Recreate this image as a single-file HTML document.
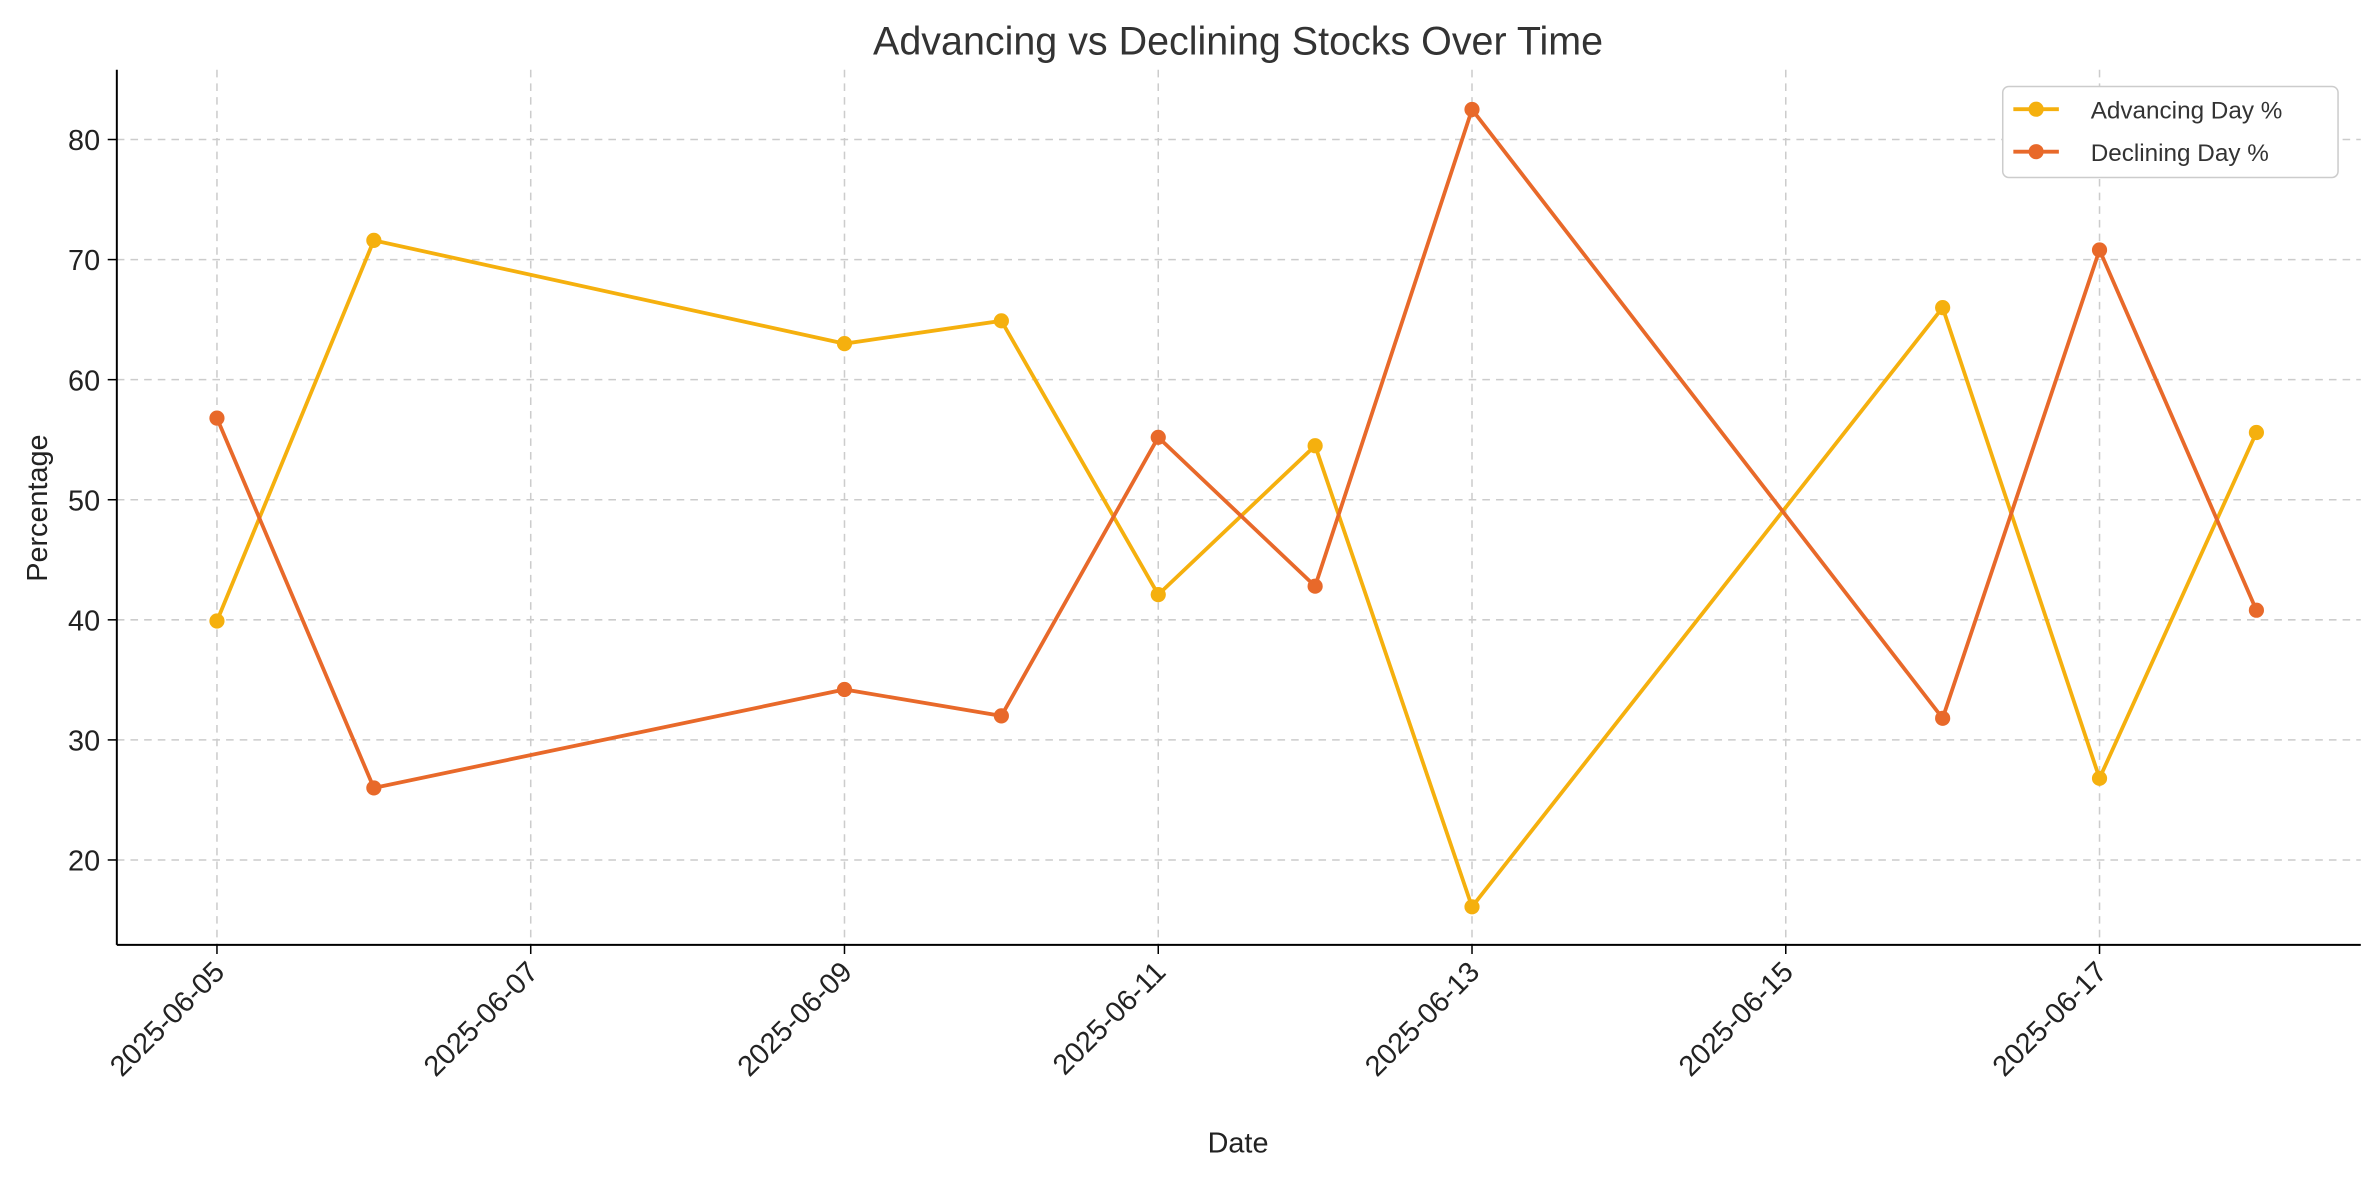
<!DOCTYPE html>
<html><head><meta charset="utf-8"><style>
body{margin:0;background:#fff;}
svg{display:block;font-family:"Liberation Sans","DejaVu Sans",sans-serif;}
</style></head><body>
<svg id="chart" width="2379" height="1180" viewBox="0 0 1568 778" preserveAspectRatio="none">
<text x="816" y="36" font-size="26" fill="#333" text-anchor="middle">Advancing vs Declining Stocks Over Time</text>
<g id="grid"></g>
<g id="axes"></g>
<g id="series"></g>
<text x="816" y="760" font-size="19" fill="#222" text-anchor="middle">Date</text>
<text transform="translate(31,335) rotate(-90)" font-size="19" fill="#222" text-anchor="middle">Percentage</text>
<g>
<rect x="1320" y="57" width="221" height="60" rx="4" fill="#fff" stroke="#ccc"/>
<g>
<line x1="1327" y1="72" x2="1357" y2="72" stroke="#f5b00e" stroke-width="2.5"/><circle cx="1342" cy="72" r="5" fill="#f5b00e"/>
<text x="1378" y="78" font-size="16" fill="#333">Advancing Day %</text></g>
<g>
<line x1="1327" y1="100" x2="1357" y2="100" stroke="#e8692a" stroke-width="2.5"/><circle cx="1342" cy="100" r="5" fill="#e8692a"/>
<text x="1378" y="106" font-size="16" fill="#333">Declining Day %</text></g>
</g>
</svg>
<script>
const dates=["2025-06-05","2025-06-06","2025-06-09","2025-06-10","2025-06-11","2025-06-12","2025-06-13","2025-06-16","2025-06-17","2025-06-18"];
const advancing=[39.9,71.6,63.0,64.9,42.1,54.5,16.1,66.0,26.8,55.6];
const declining=[56.8,26.0,34.2,32.0,55.2,42.8,82.5,31.8,70.8,40.8];
const xTicks=["2025-06-05","2025-06-07","2025-06-09","2025-06-11","2025-06-13","2025-06-15","2025-06-17"];
const yTicks=[20,30,40,50,60,70,80];
const NS="http://www.w3.org/2000/svg";
const base=Date.UTC(2025,5,5);
function dayOf(s){const p=s.split("-");return (Date.UTC(+p[0],+p[1]-1,+p[2])-base)/864e5;}
function xs(s){return 143+dayOf(s)*103.4;}
function ys(v){return 567-(v-20)*7.917;}
function mk(tag,attrs,parent){const e=document.createElementNS(NS,tag);for(const k in attrs)e.setAttribute(k,attrs[k]);parent.appendChild(e);return e;}
const grid=document.getElementById("grid"),axes=document.getElementById("axes"),series=document.getElementById("series");
xTicks.forEach(t=>{const x=xs(t);
 const g=mk("line",{x1:x,x2:x,y1:46,y2:623,stroke:"#ccc","stroke-dasharray":"5,4","stroke-width":1},grid);
 
 
 mk("line",{x1:x,x2:x,y1:623,y2:629,stroke:"#000"},axes);
 const tx=mk("text",{transform:`translate(${x+6},${642}) rotate(-45)`,"font-size":19,fill:"#222","text-anchor":"end"},axes);
 tx.textContent=t;
 
 
});
yTicks.forEach(v=>{const y=ys(v);
 const g=mk("line",{x1:77,x2:1556,y1:y,y2:y,stroke:"#ccc","stroke-dasharray":"5,4","stroke-width":1},grid);
 
 
 mk("line",{x1:71,x2:77,y1:y,y2:y,stroke:"#000"},axes);
 const tx=mk("text",{x:66,y:y+7,"font-size":19,fill:"#222","text-anchor":"end"},axes);
 tx.textContent=v;
 
 
});
const la=mk("line",{x1:77,x2:77,y1:46,y2:623,stroke:"#000","stroke-width":1.3},axes);


const lb=mk("line",{x1:77,x2:1556,y1:623,y2:623,stroke:"#000","stroke-width":1.3},axes);


function draw(vals,color,name){
 const pts=vals.map((v,i)=>xs(dates[i])+","+ys(v)).join(" ");
 const pl=mk("polyline",{points:pts,fill:"none",stroke:color,"stroke-width":2.5},series);
 
 
 vals.forEach((v,i)=>{const c=mk("circle",{cx:xs(dates[i]),cy:ys(v),r:5,fill:color},series);
  
  });
}
draw(advancing,"#f5b00e","advancing");
draw(declining,"#e8692a","declining");
</script>
</body></html>
